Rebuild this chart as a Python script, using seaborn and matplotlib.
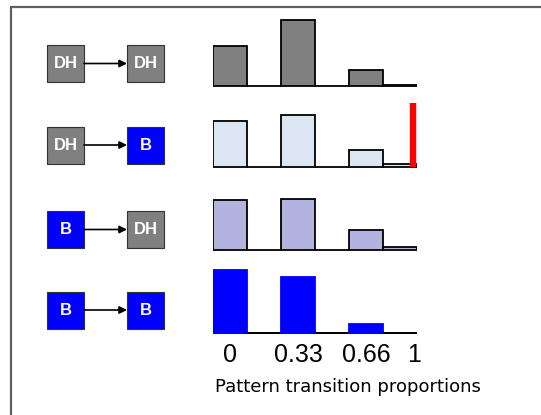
import seaborn as sns
import pandas as pd
import matplotlib.pyplot as plt
from matplotlib.patches import Rectangle

# bins of the transition-proportion histogram (6 bins, values on alternate bins)
bins = ["b0", "b1", "b2", "b3", "b4", "b5"]
tick_pos = [0, 2, 4, 5.4]
tick_labels = ["0", "0.33", "0.66", "1"]

dh_dh = [0.40, 0.0, 0.66, 0.0, 0.16, 0.005]
dh_b = [0.46, 0.0, 0.52, 0.0, 0.17, 0.03]
b_dh = [0.495, 0.0, 0.51, 0.0, 0.195, 0.025]
b_b = [0.63, 0.0, 0.56, 0.0, 0.09, 0.0]

# red marker in the DH -> B row
marker_x = 5.39
marker_h = 0.64

transitions = [("DH", "DH"), ("DH", "B"), ("B", "DH"), ("B", "B")]
state_colors = {"DH": "#808080", "B": "#0000ff"}
row_colors = ["#808080", "#dce6f2", "#b3b3e0", "#0000ff"]
row_values = [dh_dh, dh_b, b_dh, b_b]


def make_plot():
    sns.set_style("white")
    plt.rcParams["font.family"] = ["DejaVu Sans"]
    plt.rcParams["text.color"] = "black"
    plt.rcParams["xtick.color"] = "black"
    W, H = 541, 415
    fig = plt.figure(figsize=(W / 100, H / 100), dpi=100)

    # overlay for frame + icons (pixel coords)
    bg = fig.add_axes([0, 0, 1, 1])
    bg.set_xlim(0, W)
    bg.set_ylim(H, 0)
    bg.axis("off")
    bg.plot([10.5, 10.5], [H, 7.5], color="#606060", lw=1.6)
    bg.plot([10.5, W], [7.5, 7.5], color="#606060", lw=1.6)

    icon_y = [63.5, 145, 229.5, 310]
    box = 37
    for (a, b), cy in zip(transitions, icon_y):
        for cx, st in [(65.5, a), (145.5, b)]:
            bg.add_patch(Rectangle((cx - box / 2, cy - box / 2), box, box,
                                   facecolor=state_colors[st], edgecolor="#333333", lw=0.8))
            bg.text(cx, cy, st, color="white", fontsize=12, fontweight="bold",
                    family="Liberation Sans", ha="center", va="center")
        bg.annotate("", xy=(127, cy), xytext=(84, cy),
                    arrowprops=dict(arrowstyle="-|>", color="black", lw=1.2,
                                    mutation_scale=11, shrinkA=0, shrinkB=0))

    baselines = [86, 167, 250, 333]
    ax_h = 72
    y_lo, y_hi = -0.02, 0.70
    for i, (vals, col, base) in enumerate(zip(row_values, row_colors, baselines)):
        off = ax_h * (-y_lo) / (y_hi - y_lo)
        ax = fig.add_axes([213 / W, 1 - (base + off) / H, 204 / W, ax_h / H])
        df = pd.DataFrame({"bin": bins, "value": vals})
        sns.barplot(data=df, x="bin", y="value", color=col, width=1, ax=ax,
                    saturation=1, edgecolor="black", linewidth=1.3)
        if i == 3:
            for p, v in zip(ax.patches, vals):
                if v > 0:
                    p.set_edgecolor(col)
            ax.axhline(0, color="black", lw=1.3, zorder=0)
        if i == 1:
            ax.vlines(marker_x, 0, marker_h, color="#ff0000", lw=4.6, zorder=5)
        ax.set_xlim(-0.5, 5.5)
        ax.set_ylim(y_lo, y_hi)
        sns.despine(ax=ax, left=True, bottom=True)
        ax.set_yticks([])
        ax.set_ylabel("")
        ax.set_xlabel("")
        ax.patch.set_alpha(0)
        if i == 3:
            ax.set_xticks(tick_pos)
            ax.set_xticklabels(tick_labels, fontsize=18, family="Liberation Sans")
            ax.tick_params(axis="x", length=0, pad=6)
        else:
            ax.set_xticks([])

    fig.text(348 / W, 1 - 387 / H, "Pattern transition proportions",
             fontsize=13, ha="center", va="center", color="black")
    plt.savefig("out.png", dpi=100)


if __name__ == '__main__':
    make_plot()
